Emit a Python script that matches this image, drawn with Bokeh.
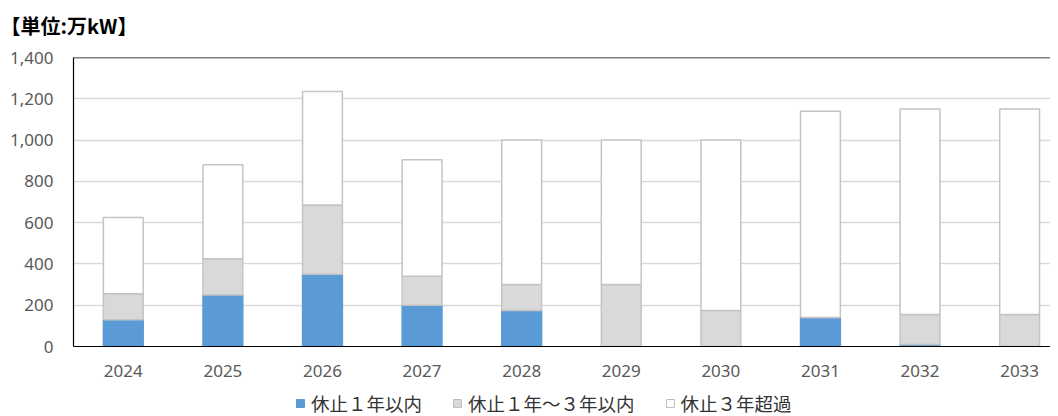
from bokeh.plotting import figure
from bokeh.layouts import column
from bokeh.models import (ColumnDataSource, Range1d, FixedTicker, NumeralTickFormatter,
                          Legend, LegendItem, Span, Label)
from bokeh.embed import file_html
from bokeh.resources import INLINE

years = [2024, 2025, 2026, 2027, 2028, 2029, 2030, 2031, 2032, 2033]
year_labels = [str(y) for y in years]
within_1y = [130, 250, 350, 200, 175, 0, 0, 140, 10, 0]
within_1to3y = [125, 175, 335, 140, 125, 300, 175, 0, 145, 155]
over_3y = [370, 455, 550, 565, 700, 700, 825, 1000, 995, 995]
series_names = ["休止１年以内", "休止１年～３年以内", "休止３年超過"]
y_ticks = [0, 200, 400, 600, 800, 1000, 1200, 1400]
unit_title = "【単位:万kW】"

fills = ["#5B9BD5", "#D9D9D9", "#FFFFFF"]
lines = ["#5B9BD5", "#C4C4C4", "#C4C4C4"]

W = 1050
LEFT = 73

def strip(h, left):
    f = figure(width=W, height=h, output_backend="svg", toolbar_location=None,
               x_range=Range1d(0, 1), y_range=Range1d(0, 1),
               min_border_left=left, min_border_right=0, min_border_top=0, min_border_bottom=0)
    f.axis.visible = False
    f.grid.visible = False
    f.outline_line_color = None
    return f

src = ColumnDataSource(dict(x=years, a=within_1y, b=within_1to3y, c=over_3y))

# --- title strip ---
p0 = strip(42, 0)
p0.frame_align = False
p0.add_layout(Label(x=0, y=17, x_units="screen", y_units="screen", text=unit_title,
                    text_font="Noto Sans CJK JP", text_font_size="20px", text_font_style="bold",
                    text_color="#000000", text_baseline="middle", text_align="left"))

# --- main chart ---
p = figure(width=W, height=342, output_backend="svg", toolbar_location=None,
           x_range=Range1d(2023.5, 2033.31), y_range=Range1d(0, 1400),
           min_border_left=LEFT, min_border_right=0, min_border_top=15, min_border_bottom=38)
p.outline_line_color = None
p.background_fill_color = "white"
p.border_fill_color = "white"

renderers = p.vbar_stack(["a", "b", "c"], x="x", width=0.40, source=src,
                         fill_color=fills, line_color=lines, line_width=1.5)

p.xgrid.grid_line_color = None
p.ygrid.grid_line_color = "#D9D9D9"
p.ygrid.grid_line_width = 1.5
p.ygrid.ticker = FixedTicker(ticks=y_ticks)

p.add_layout(Span(location=1400, dimension="width", line_color="#000000", line_width=1.5))

xa = p.xaxis[0]
xa.ticker = FixedTicker(ticks=years)
xa.major_label_overrides = {y: l for y, l in zip(years, year_labels)}
xa.axis_line_color = "#000000"
xa.axis_line_width = 1.2
xa.major_tick_line_color = None
xa.minor_tick_line_color = None
xa.major_label_standoff = 12
xa.major_label_text_font = "Noto Sans"
xa.major_label_text_font_size = "17px"
xa.major_label_text_color = "#595959"

ya = p.yaxis[0]
ya.ticker = FixedTicker(ticks=y_ticks)
ya.formatter = NumeralTickFormatter(format="0,0")
ya.axis_line_color = "#000000"
ya.axis_line_width = 1.2
ya.major_tick_line_color = None
ya.minor_tick_line_color = None
ya.major_label_standoff = 14
ya.major_label_text_font = "Noto Sans"
ya.major_label_text_font_size = "17px"
ya.major_label_text_color = "#595959"

# --- legend strip (swatches use the same data, drawn outside the strip's view) ---
p2 = strip(32, LEFT)
swatches = p2.vbar_stack(["a", "b", "c"], x="x", width=0.40, source=src,
                         fill_color=fills, line_color=["#5B9BD5", "#BFBFBF", "#BFBFBF"], line_width=1)
legend = Legend(items=[LegendItem(label=n, renderers=[r]) for n, r in zip(series_names, swatches)],
                orientation="horizontal", location=(295 - LEFT, 0), padding=0, margin=0,
                spacing=30, label_standoff=6, glyph_width=10, glyph_height=10,
                label_text_font="Noto Sans CJK JP", label_text_font_size="18.5px",
                label_text_color="#333333", border_line_color=None, background_fill_alpha=0)
p2.add_layout(legend, "center")

layout = column(p0, p, p2, spacing=0)
open("out.html", "w").write(file_html(layout, INLINE))
